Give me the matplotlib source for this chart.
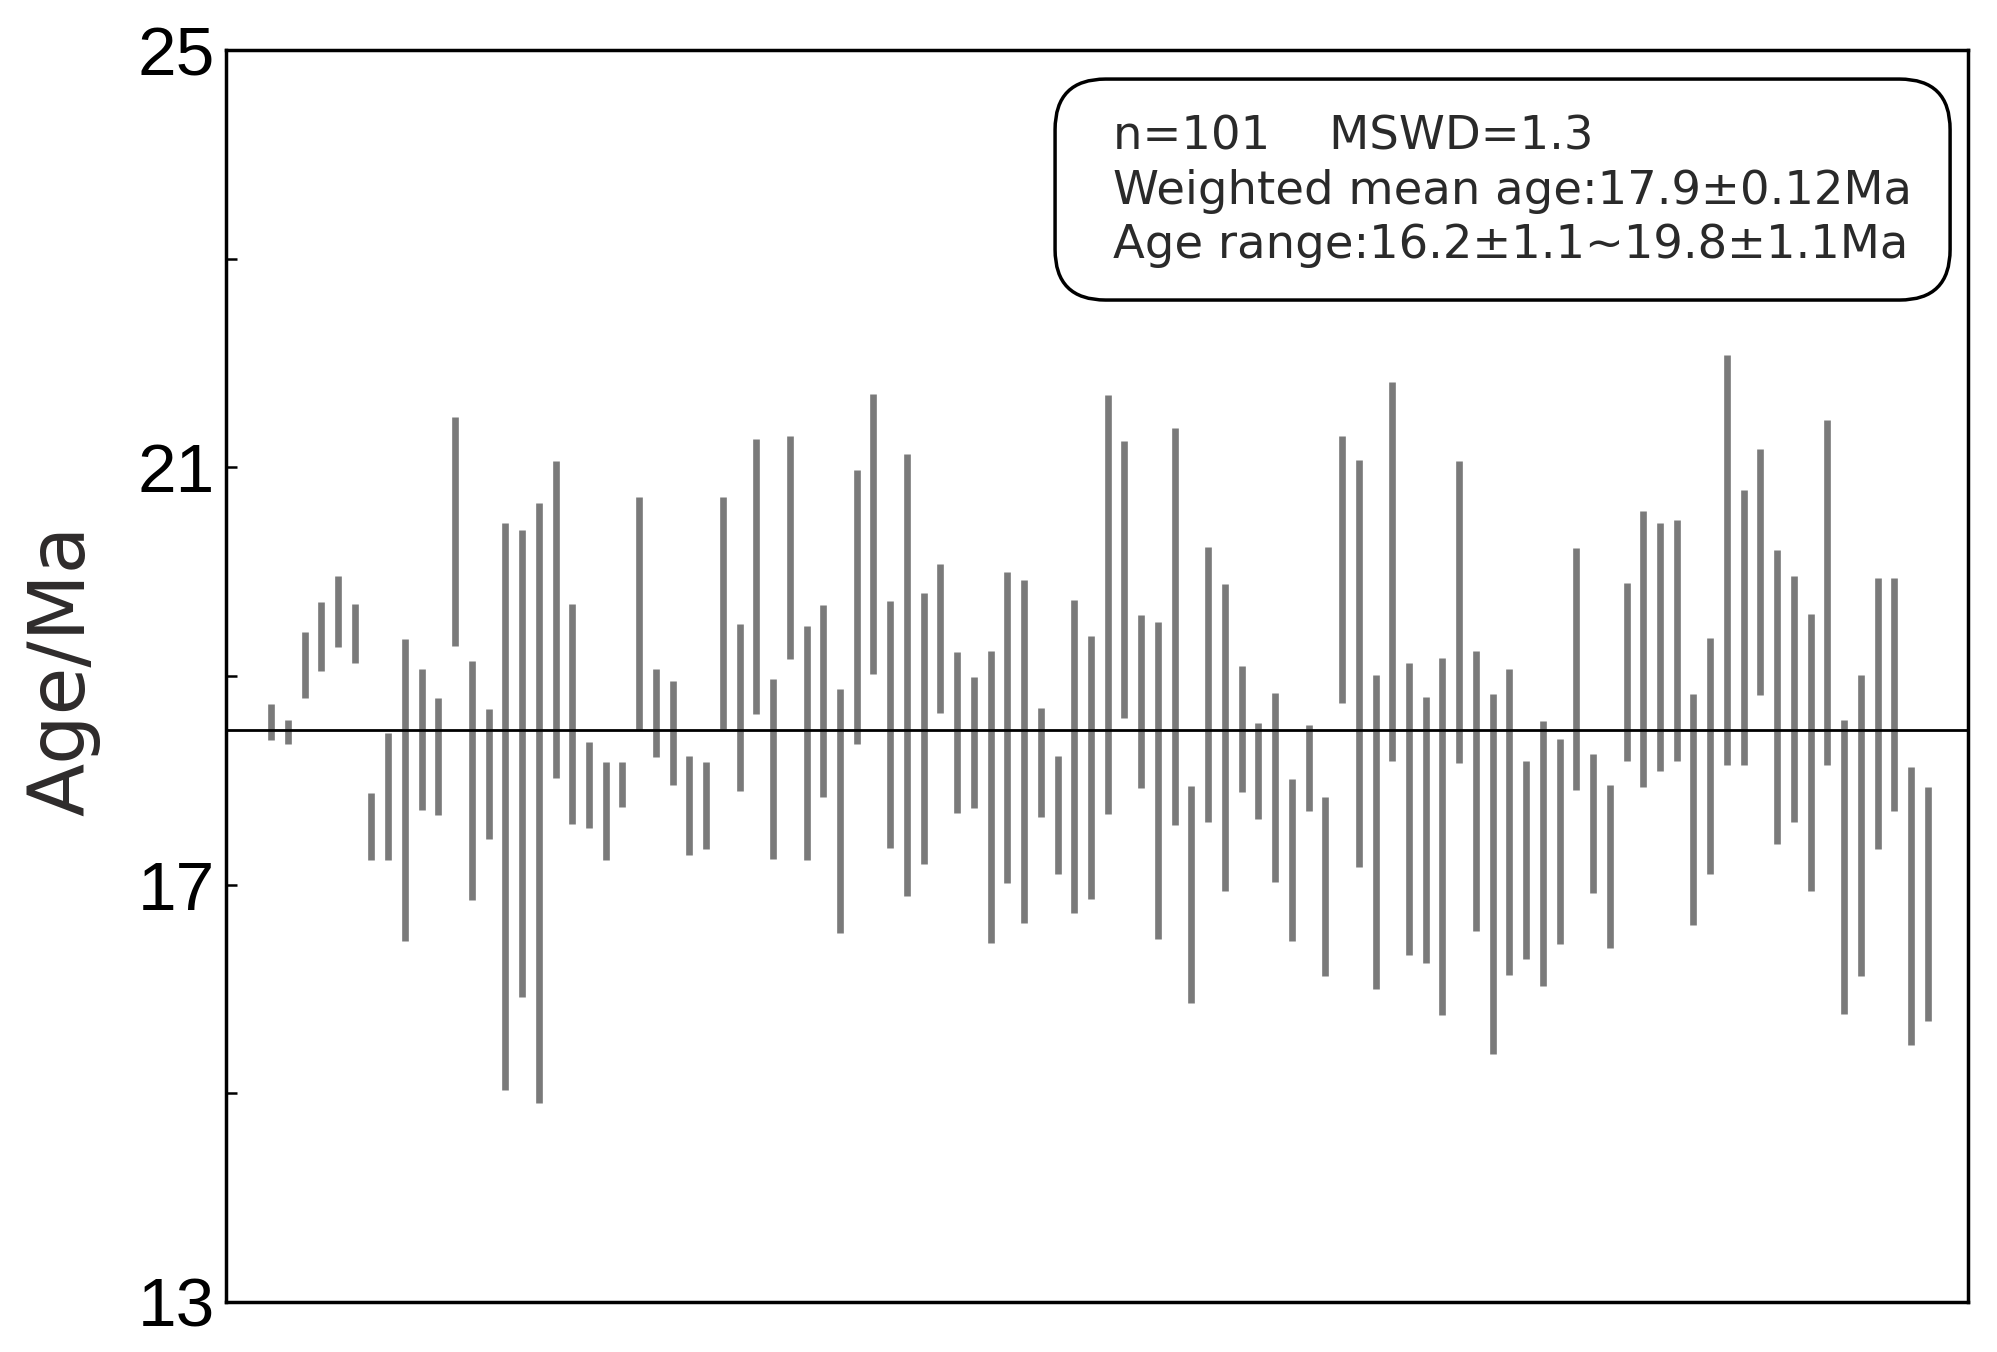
import numpy as np
import matplotlib.pyplot as plt
from matplotlib.patches import FancyBboxPatch

# upper / lower ends of each age bar (Ma)
age_hi = [18.73, 18.58, 19.42, 19.71, 19.96, 19.69, 17.88, 18.45, 19.35, 19.07,
          18.79, 21.48, 19.14, 18.68, 20.47, 20.40, 20.66, 21.06, 19.69, 18.37,
          18.18, 18.18, 20.72, 19.07, 18.95, 18.23, 18.18, 20.72, 19.50, 21.27,
          18.97, 21.30, 19.48, 19.68, 18.88, 20.97, 21.70, 19.72, 21.13, 19.80,
          20.07, 19.23, 18.99, 19.24, 20.00, 19.92, 18.69, 18.23, 19.73, 19.38,
          21.69, 21.25, 19.58, 19.52, 21.38, 17.95, 20.24, 19.88, 19.10, 18.55,
          18.84, 18.01, 18.53, 17.84, 21.30, 21.07, 19.01, 21.82, 19.12, 18.80,
          19.17, 21.06, 19.24, 18.83, 19.07, 18.19, 18.57, 18.40, 20.23, 18.25,
          17.96, 19.89, 20.58, 20.47, 20.50, 18.83, 19.36, 22.08, 20.78, 21.18,
          20.21, 19.96, 19.59, 21.45, 18.58, 19.01, 19.94, 19.94, 18.13, 17.94]
age_lo = [18.39, 18.35, 18.79, 19.05, 19.28, 19.12, 17.24, 17.24, 16.46, 17.72,
          17.67, 19.29, 16.85, 17.44, 15.03, 15.92, 14.91, 18.02, 17.58, 17.54,
          17.24, 17.74, 18.48, 18.22, 17.96, 17.28, 17.34, 18.49, 17.90, 18.64,
          17.25, 19.16, 17.24, 17.84, 16.54, 18.35, 19.02, 17.35, 16.89, 17.20,
          18.65, 17.69, 17.73, 16.44, 17.02, 16.63, 17.65, 17.10, 16.73, 16.86,
          17.68, 18.60, 17.93, 16.48, 17.57, 15.87, 17.60, 16.94, 17.89, 17.63,
          17.03, 16.46, 17.71, 16.12, 18.74, 17.17, 16.00, 18.19, 16.33, 16.25,
          15.75, 18.17, 16.56, 15.38, 16.13, 16.29, 16.03, 16.43, 17.91, 16.92,
          16.39, 18.19, 17.94, 18.09, 18.19, 16.61, 17.10, 18.15, 18.15, 18.82,
          17.39, 17.60, 16.94, 18.15, 15.76, 16.12, 17.34, 17.71, 15.46, 15.69]
mean_line = 18.48
major_ticks = [13, 17, 21, 25]
minor_ticks = [15, 19, 23]
info_lines = ["n=101    MSWD=1.3",
              "Weighted mean age:17.9\u00b10.12Ma",
              "Age range:16.2\u00b11.1~19.8\u00b11.1Ma"]

x = np.arange(1, len(age_hi) + 1)

fig = plt.figure(figsize=(19.97, 13.52), dpi=100)
ax = fig.add_axes([0.1132, 0.0370, 0.8723, 0.9260])

ax.vlines(x, age_lo, age_hi, colors='#7a7a7a', linewidth=4.8, capstyle='butt')
ax.axhline(mean_line, color='black', linewidth=2.0)

ax.set_xlim(-1.69, 102.41)
ax.set_ylim(13, 25)
ax.set_xticks([])
ax.set_yticks(major_ticks)
ax.set_yticks(minor_ticks, minor=True)
ax.tick_params(axis='y', which='both', direction='in', length=8, width=1.8,
               pad=8, labelsize=50)
for lab in ax.get_yticklabels():
    lab.set_family('Liberation Sans')
for s in ax.spines.values():
    s.set_linewidth(2.5)

# info box
box = FancyBboxPatch((0.4759, 0.8003), 0.9897 - 0.4759, 0.9768 - 0.8003,
                     boxstyle='round,pad=0,rounding_size=0.029',
                     mutation_aspect=1.391, transform=ax.transAxes,
                     facecolor='white', edgecolor='black', linewidth=2.5, zorder=3)
ax.add_patch(box)
for t, yy in zip(info_lines, [0.9209, 0.8770, 0.8339]):
    ax.text(0.5092, yy, t, transform=ax.transAxes, ha='left', va='baseline',
            fontsize=33.5, color='#2a2a2a', family='DejaVu Sans', zorder=4)

fig.text(62 / 1997, 1 - 670 / 1352, 'Age/Ma', rotation=90, ha='center',
         va='center', fontsize=56, color='#2e2b2b', family='DejaVu Sans')

fig.savefig('out.png', dpi=100)
